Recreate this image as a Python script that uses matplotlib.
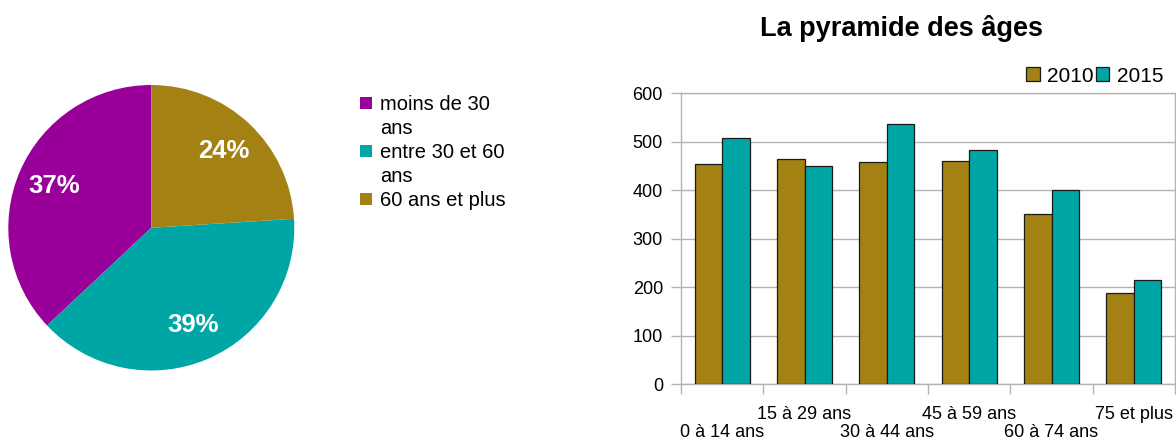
import matplotlib
matplotlib.use("Agg")
import matplotlib.pyplot as plt
from matplotlib.patches import Patch
import numpy as np

plt.rcParams['font.family'] = ['Liberation Sans', 'DejaVu Sans']

# ---- data ----
pie_labels = ["moins de 30 ans", "entre 30 et 60 ans", "60 ans et plus"]
pie_legend_lines = [["moins de 30", "ans"], ["entre 30 et 60", "ans"], ["60 ans et plus"]]
pie_values = [37, 39, 24]
pie_colors = ["#990099", "#00a6a6", "#a38113"]

categories = ["0 à 14 ans", "15 à 29 ans", "30 à 44 ans", "45 à 59 ans", "60 à 74 ans", "75 et plus"]
series_names = ["2010", "2015"]
values_2010 = [454, 465, 458, 461, 351, 188]
values_2015 = [507, 451, 536, 483, 401, 215]
series_colors = ["#a38113", "#00a6a6"]
yticks = [0, 100, 200, 300, 400, 500, 600]
title = "La pyramide des âges"

W, H = 1176, 441
fig = plt.figure(figsize=(W / 100, H / 100), dpi=100)

def px_rect(x0, y0, x1, y1):
    return [x0 / W, 1 - y1 / H, (x1 - x0) / W, (y1 - y0) / H]

# ---- pie ----
axp = fig.add_axes(px_rect(8.3, 85, 294.3, 370.5))
wedges, texts, autotexts = axp.pie(
    pie_values, colors=pie_colors, startangle=90, counterclock=True,
    autopct='%.0f%%', pctdistance=0.74, radius=1,
    wedgeprops=dict(linewidth=0),
    textprops=dict(color='white', fontsize=18.5, fontweight='bold'))
axp.set_xlim(-1, 1)
axp.set_ylim(-1, 1)
axp.set_aspect('equal', adjustable='datalim')

handles, labels = [], []
for w, lines in zip(wedges, pie_legend_lines):
    for i, ln in enumerate(lines):
        if i == 0:
            handles.append(Patch(facecolor=w.get_facecolor(), edgecolor='none'))
        else:
            handles.append(Patch(facecolor='none', edgecolor='none'))
        labels.append(ln)
fig.legend(handles, labels, loc='upper left',
           bbox_to_anchor=(360 / W, 1 - 95 / H), frameon=False,
           fontsize=14.5, handlelength=0.6, handleheight=0.6,
           handletextpad=0.4, labelspacing=0.25, borderpad=0, borderaxespad=0)

# ---- bars ----
ax = fig.add_axes(px_rect(681, 93.3, 1175, 384.3))
x = np.arange(len(categories))
bw = 1 / 3
b1 = ax.bar(x - bw / 2, values_2010, bw, color=series_colors[0], edgecolor='#1a1a1a',
            linewidth=0.9, zorder=3, label=series_names[0])
b2 = ax.bar(x + bw / 2, values_2015, bw, color=series_colors[1], edgecolor='#1a1a1a',
            linewidth=0.9, zorder=3, label=series_names[1])
ax.set_xlim(-0.5, len(categories) - 0.5)
ax.set_ylim(0, 600)
ax.set_yticks(yticks)
ax.grid(axis='y', color='#b3b3b3', linewidth=1, zorder=0)
for s in ax.spines.values():
    s.set_color('#b3b3b3')
    s.set_linewidth(1)
ax.tick_params(axis='y', length=7.5, width=1, color='#b3b3b3', labelsize=13, pad=5.5)

# category boundaries as major ticks; upper-row labels as minor ticks
ax.set_xticks(np.arange(-0.5, len(categories), 1.0))
ax.set_xticklabels([])
odd = [i for i in range(len(categories)) if i % 2 == 1]
even = [i for i in range(len(categories)) if i % 2 == 0]
ax.set_xticks(odd, minor=True)
ax.set_xticklabels([categories[i] for i in odd], minor=True)
ax.tick_params(axis='x', which='major', length=7.5, width=1, color='#b3b3b3')
ax.tick_params(axis='x', which='minor', length=0, labelsize=13, pad=15.5)

# lower-row labels on a secondary axis
sec = ax.secondary_xaxis('bottom')
sec.set_xticks(even)
sec.set_xticklabels([categories[i] for i in even])
sec.tick_params(axis='x', length=0, labelsize=13, pad=28.5)
sec.spines['bottom'].set_visible(False)

fig.text(901 / W, 1 - 28 / H, title, ha='center', va='center',
         fontsize=19.5, fontweight='bold')

fig.legend(handles=[b1, b2], loc='center right',
           bbox_to_anchor=(1163 / W, 1 - 76 / H), ncol=2, frameon=False,
           fontsize=15, handlelength=0.65, handleheight=0.65,
           handletextpad=0.35, columnspacing=0.1, borderpad=0, borderaxespad=0)

fig.savefig("out.png", dpi=100)
